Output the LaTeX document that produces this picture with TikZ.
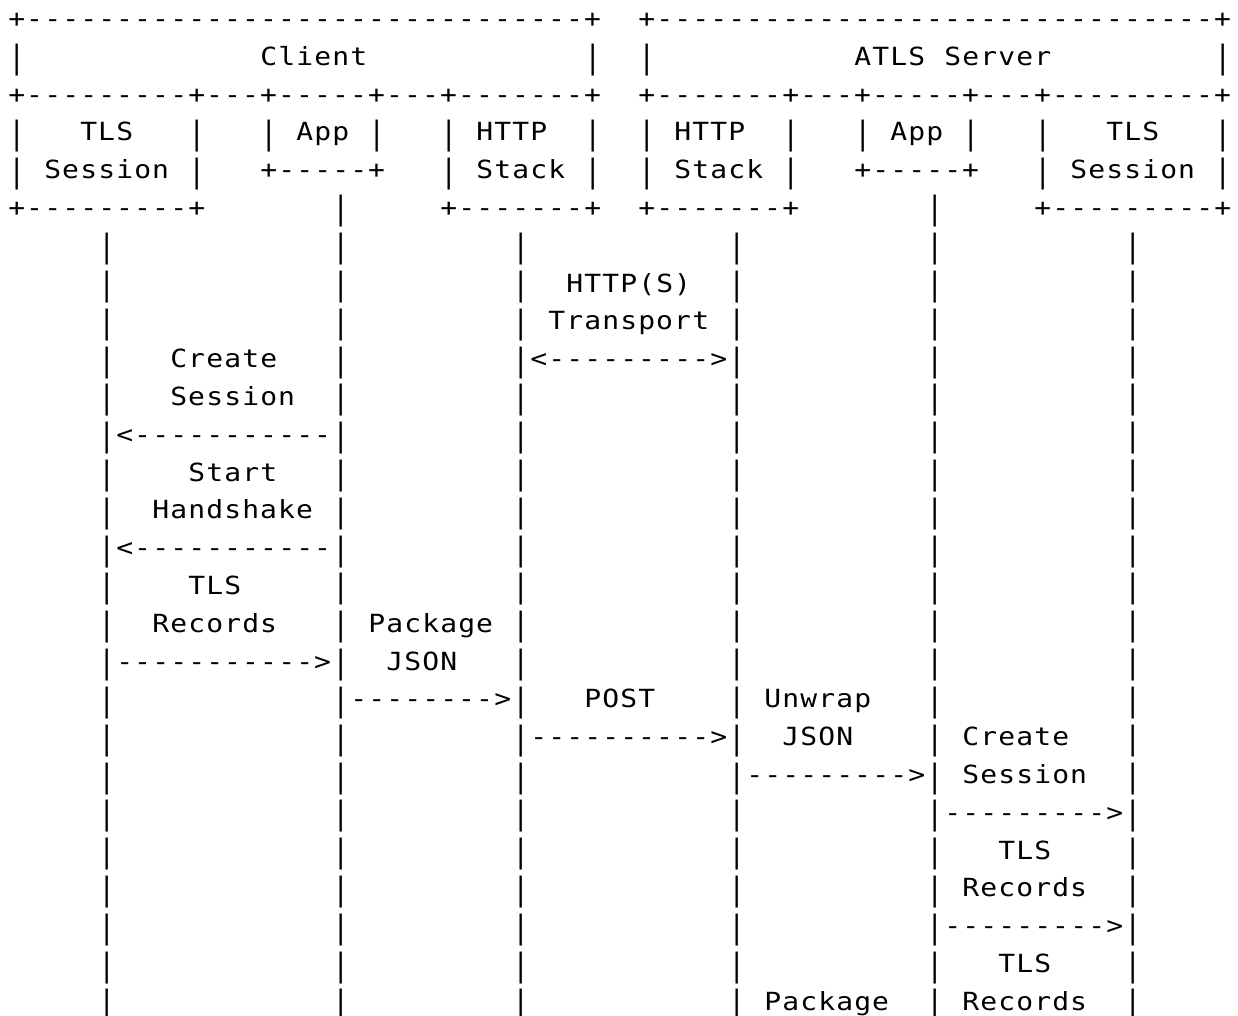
\documentclass[tikz,border=0pt]{standalone}
\usepackage{fontspec}
\usepackage{graphicx}
\newfontfamily\asciifont{DejaVu Sans Mono}[FakeStretch=1.12]

% fixed character cell of the text grid
\newlength\asciicw
\setlength\asciicw{9pt}

\makeatletter
% typeset a string one character per fixed-width cell
\def\ascii@stop{\ascii@stop}
\newcommand\ascii[1]{\ascii@loop#1\ascii@stop}
\def\ascii@loop#1{%
  \ifx#1\ascii@stop\else
    \if\noexpand#1|\ascii@bar\else\makebox[\asciicw][c]{#1}\fi
    \expandafter\ascii@loop
  \fi}
% a taller vertical bar so that stacked bars read as a line
\def\ascii@bar{\makebox[\asciicw][c]{\raisebox{-1.75pt}{\scalebox{1}[1.28]{|}}}}
\makeatother

\tikzset{
  ascii/.style={anchor=base west, inner sep=0pt, outer sep=0pt,
    font={\asciifont\fontsize{12.5pt}{14pt}\selectfont}},
}
% \piece{name}{row}{column}{text}
\newcommand\piece[4]{\node[ascii] (#1) at ({7.7+18*#3},{27.5+37.8*#2}) {\ascii{#4}};}

\begin{document}
\begin{tikzpicture}[x=0.5pt, y=-0.5pt]
\fill[white] (0,0) rectangle (1238,1016);
\useasboundingbox (0,0) rectangle (1238,1016);

% ---- header boxes
\piece{clientTop}{0}{0}{+-------------------------------+}
\piece{serverTop}{0}{35}{+-------------------------------+}

\piece{clientL}{1}{0}{|}
\piece{clientName}{1}{14}{Client}
\piece{clientR}{1}{32}{|}
\piece{serverL}{1}{35}{|}
\piece{serverNameA}{1}{47}{ATLS}
\piece{serverNameB}{1}{52}{Server}
\piece{serverR}{1}{67}{|}

\piece{clientMid}{2}{0}{+---------+---+-----+---+-------+}
\piece{serverMid}{2}{35}{+-------+---+-----+---+---------+}

\piece{r3a}{3}{0}{|}
\piece{cTlsA}{3}{4}{TLS}
\piece{r3b}{3}{10}{|}
\piece{r3c}{3}{14}{|}
\piece{cApp}{3}{16}{App}
\piece{r3d}{3}{20}{|}
\piece{r3e}{3}{24}{|}
\piece{cHttpA}{3}{26}{HTTP}
\piece{r3f}{3}{32}{|}
\piece{r3g}{3}{35}{|}
\piece{sHttpA}{3}{37}{HTTP}
\piece{r3h}{3}{43}{|}
\piece{r3i}{3}{47}{|}
\piece{sApp}{3}{49}{App}
\piece{r3j}{3}{53}{|}
\piece{r3k}{3}{57}{|}
\piece{sTlsA}{3}{61}{TLS}
\piece{r3l}{3}{67}{|}

\piece{r4a}{4}{0}{|}
\piece{cTlsB}{4}{2}{Session}
\piece{r4b}{4}{10}{|}
\piece{cAppBot}{4}{14}{+-----+}
\piece{r4c}{4}{24}{|}
\piece{cHttpB}{4}{26}{Stack}
\piece{r4d}{4}{32}{|}
\piece{r4e}{4}{35}{|}
\piece{sHttpB}{4}{37}{Stack}
\piece{r4f}{4}{43}{|}
\piece{sAppBot}{4}{47}{+-----+}
\piece{r4g}{4}{57}{|}
\piece{sTlsB}{4}{59}{Session}
\piece{r4h}{4}{67}{|}

\piece{cTlsBot}{5}{0}{+---------+}
\piece{cAppLine}{5}{18}{|}
\piece{cHttpBot}{5}{24}{+-------+}
\piece{sHttpBot}{5}{35}{+-------+}
\piece{sAppLine}{5}{51}{|}
\piece{sTlsBot}{5}{57}{+---------+}

% ---- lifelines
\foreach \r in {6,...,26}
  \foreach \c [count=\k] in {5,18,28,40,51,62}
    \node[ascii] (life-\r-\k) at ({7.7+18*\c},{27.5+37.8*\r}) {\ascii{|}};

% ---- messages
\piece{transportA}{7}{31}{HTTP(S)}
\piece{transportB}{8}{30}{Transport}
\piece{transportArrow}{9}{29}{<--------->}

\piece{createA}{9}{9}{Create}
\piece{createB}{10}{9}{Session}
\piece{createArrow}{11}{6}{<-----------}

\piece{startA}{12}{10}{Start}
\piece{startB}{13}{8}{Handshake}
\piece{startArrow}{14}{6}{<-----------}

\piece{recA}{15}{10}{TLS}
\piece{recB}{16}{8}{Records}
\piece{recArrow}{17}{6}{----------->}

\piece{pkgA}{16}{20}{Package}
\piece{pkgB}{17}{21}{JSON}
\piece{pkgArrow}{18}{19}{-------->}

\piece{post}{18}{32}{POST}
\piece{postArrow}{19}{29}{---------->}

\piece{unwrapA}{18}{42}{Unwrap}
\piece{unwrapB}{19}{43}{JSON}
\piece{unwrapArrow}{20}{41}{--------->}

\piece{sCreateA}{19}{53}{Create}
\piece{sCreateB}{20}{53}{Session}
\piece{sCreateArrow}{21}{52}{--------->}

\piece{sRecA}{22}{55}{TLS}
\piece{sRecB}{23}{53}{Records}
\piece{sRecArrow}{24}{52}{--------->}

\piece{sRec2A}{25}{55}{TLS}
\piece{sRec2B}{26}{53}{Records}
\piece{sPkgA}{26}{42}{Package}
\end{tikzpicture}
\end{document}
